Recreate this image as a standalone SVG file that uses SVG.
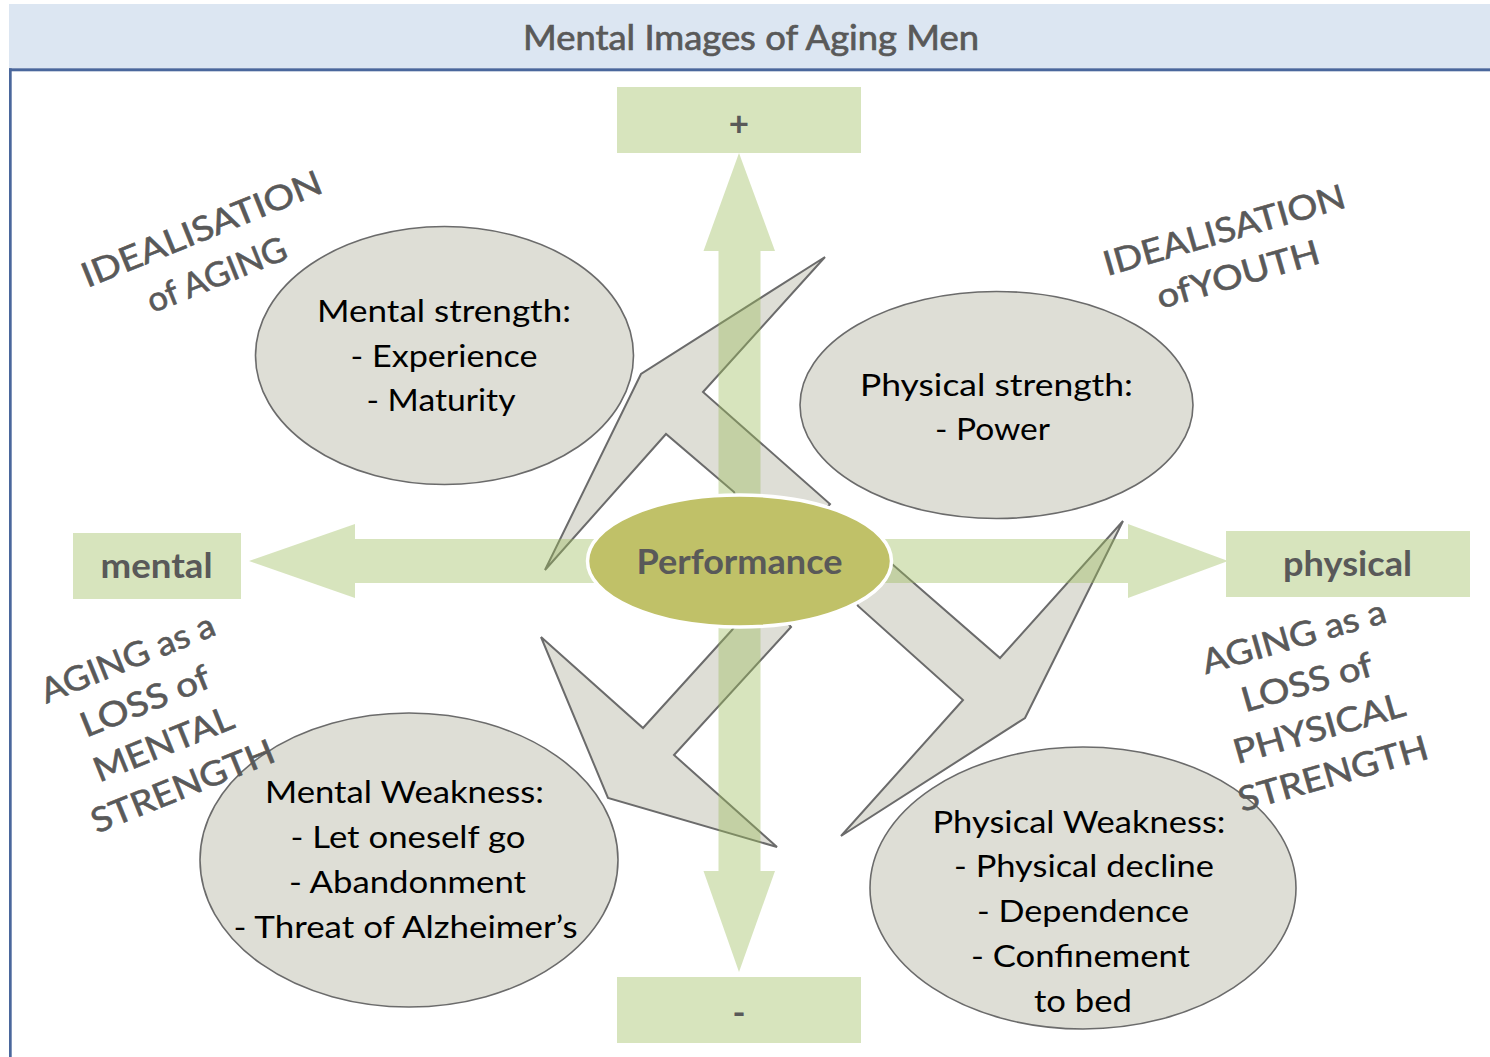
<svg xmlns="http://www.w3.org/2000/svg" width="1490" height="1057" viewBox="0 0 1490 1057">
<style>
  .bubble { fill: #deded6; stroke: #6b6b6b; stroke-width: 1.6; }
  .swirl { fill: #deded6; stroke: #6b6b6b; stroke-width: 2; stroke-linejoin: miter; }
  .gbox { fill: #d7e4bd; }
  .btxt { font-family: Lato, "Noto Sans", sans-serif; font-size: 30px; fill: #000; text-anchor: middle; }
  .lbl { font-family: Lato, "Noto Sans", sans-serif; font-size: 34px; fill: #595959; stroke: #595959; stroke-width: 0.6; text-anchor: middle; }
  .axis { font-family: Lato, "Noto Sans", sans-serif; font-size: 35px; font-weight: bold; fill: #595959; text-anchor: middle; }
</style>
<rect x="0" y="0" width="1490" height="1057" fill="#ffffff"/>
<g id="title">
  <rect x="9" y="4" width="1481" height="64.5" fill="#dce6f2"/>
  <rect x="9" y="68.3" width="1481" height="3" fill="#4a679c"/>
  <rect x="9" y="68.3" width="2.7" height="989" fill="#4a679c"/>
  <text x="751" y="50" font-family="Lato, 'Noto Sans', sans-serif" font-size="34" fill="#595959" stroke="#595959" stroke-width="0.7" text-anchor="middle" textLength="456" lengthAdjust="spacingAndGlyphs">Mental Images of Aging Men</text>
</g>
<g id="connectors">
  <polygon class="swirl" points="734,492 666,434 545,570 641,374 825,257 703,392 830,504 800,540 750,540"/>
  <polygon class="swirl" points="892,564 1000,658 1123,521 1025,718 841,836 963,700 858,606 840,570"/>
  <polygon class="swirl" points="791,627 674,755 777,847 608,798 541,637 643,728 732,630 760,590"/>
  <g opacity="0.4" fill="#9bbb59">
    <path d="M739,153 L775,251 L760.5,251 L760.5,539 L1128,539 L1128,524 L1228,561 L1128,598 L1128,583 L760.5,583 L760.5,871 L775,871 L739,972 L703.5,871 L718.5,871 L718.5,583 L355,583 L355,598 L249,561 L355,524 L355,539 L718.5,539 L718.5,251 L703.5,251 Z"/>
  </g>
</g>
<g id="plus">
  <rect class="gbox" x="617" y="87" width="244" height="66"/>
  <text class="axis" x="739" y="136">+</text>
</g>
<g id="minus">
  <rect class="gbox" x="617" y="977" width="244" height="66"/>
  <text class="axis" x="739" y="1025">-</text>
</g>
<g id="mental">
  <rect class="gbox" x="73" y="533" width="168" height="66"/>
  <text class="axis" x="156.5" y="578" textLength="112" lengthAdjust="spacingAndGlyphs">mental</text>
</g>
<g id="physical">
  <rect class="gbox" x="1226" y="531" width="244" height="66"/>
  <text class="axis" x="1347.5" y="576" textLength="129" lengthAdjust="spacingAndGlyphs">physical</text>
</g>
<g id="performance">
  <ellipse cx="739.5" cy="561" rx="152" ry="66" fill="#c0c168" stroke="#ffffff" stroke-width="3.5"/>
  <text class="axis" x="739.5" y="574" textLength="206" lengthAdjust="spacingAndGlyphs">Performance</text>
</g>
<g id="mental-strength">
  <ellipse class="bubble" cx="444.5" cy="355.5" rx="189" ry="129"/>
  <text class="btxt" x="444" y="322" textLength="254" lengthAdjust="spacingAndGlyphs">Mental strength:</text>
  <text class="btxt" x="444" y="367" textLength="187" lengthAdjust="spacingAndGlyphs">- Experience</text>
  <text class="btxt" x="441" y="411" textLength="149" lengthAdjust="spacingAndGlyphs">- Maturity</text>
</g>
<g id="physical-strength">
  <ellipse class="bubble" cx="996.5" cy="405" rx="196.5" ry="113.5"/>
  <text class="btxt" x="996.5" y="396" textLength="273" lengthAdjust="spacingAndGlyphs">Physical strength:</text>
  <text class="btxt" x="992.5" y="440" textLength="115" lengthAdjust="spacingAndGlyphs">- Power</text>
</g>
<g id="mental-weakness">
  <ellipse class="bubble" cx="409" cy="860" rx="209" ry="147"/>
  <text class="btxt" x="404.5" y="803" textLength="279" lengthAdjust="spacingAndGlyphs">Mental Weakness:</text>
  <text class="btxt" x="408" y="848" textLength="235" lengthAdjust="spacingAndGlyphs">- Let oneself go</text>
  <text class="btxt" x="407.5" y="893" textLength="237" lengthAdjust="spacingAndGlyphs">- Abandonment</text>
  <text class="btxt" x="405.5" y="938" textLength="344" lengthAdjust="spacingAndGlyphs">- Threat of Alzheimer’s</text>
</g>
<g id="physical-weakness">
  <ellipse class="bubble" cx="1083" cy="888" rx="213" ry="141"/>
  <text class="btxt" x="1079" y="833" textLength="293" lengthAdjust="spacingAndGlyphs">Physical Weakness:</text>
  <text class="btxt" x="1084" y="877" textLength="260" lengthAdjust="spacingAndGlyphs">- Physical decline</text>
  <text class="btxt" x="1083" y="922" textLength="212" lengthAdjust="spacingAndGlyphs">- Dependence</text>
  <text class="btxt" x="1080.5" y="967" textLength="219" lengthAdjust="spacingAndGlyphs">- Confinement</text>
  <text class="btxt" x="1083" y="1012" textLength="98" lengthAdjust="spacingAndGlyphs">to bed</text>
</g>
<g id="label-idealisation-aging" transform="translate(206,240) rotate(-22)">
  <text class="lbl" x="0" y="0" textLength="256" lengthAdjust="spacingAndGlyphs">IDEALISATION</text>
  <text class="lbl" x="-3" y="48" textLength="148" lengthAdjust="spacingAndGlyphs">of AGING</text>
</g>
<g id="label-idealisation-youth" transform="translate(1227.5,241.5) rotate(-16)">
  <text class="lbl" x="0" y="0" textLength="250" lengthAdjust="spacingAndGlyphs">IDEALISATION</text>
  <text class="lbl" x="1" y="46.5" textLength="168" lengthAdjust="spacingAndGlyphs">ofYOUTH</text>
</g>
<g id="label-loss-mental" transform="translate(132,669) rotate(-22)">
  <text class="lbl" x="0" y="0" textLength="185" lengthAdjust="spacingAndGlyphs">AGING as a</text>
  <text class="lbl" x="0" y="46.5" textLength="137" lengthAdjust="spacingAndGlyphs">LOSS of</text>
  <text class="lbl" x="1" y="93" textLength="148" lengthAdjust="spacingAndGlyphs">MENTAL</text>
  <text class="lbl" x="3" y="139.5" textLength="195" lengthAdjust="spacingAndGlyphs">STRENGTH</text>
</g>
<g id="label-loss-physical" transform="translate(1297,648) rotate(-16)">
  <text class="lbl" x="0" y="0" textLength="190" lengthAdjust="spacingAndGlyphs">AGING as a</text>
  <text class="lbl" x="0" y="47.5" textLength="135" lengthAdjust="spacingAndGlyphs">LOSS of</text>
  <text class="lbl" x="-1" y="95" textLength="177" lengthAdjust="spacingAndGlyphs">PHYSICAL</text>
  <text class="lbl" x="0" y="142.5" textLength="196" lengthAdjust="spacingAndGlyphs">STRENGTH</text>
</g>
</svg>
